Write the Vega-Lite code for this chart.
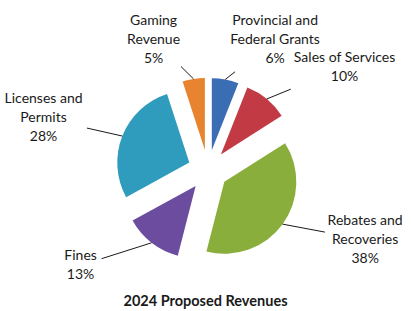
{
  "$schema": "https://vega.github.io/schema/vega-lite/v6.json",
  "width": 411,
  "height": 290,
  "padding": {"top": 0, "left": 0, "right": 0, "bottom": 21},
  "autosize": {"type": "none"},
  "background": "#ffffff",
  "config": {"view": {"stroke": null}, "font": "Lato"},
  "title": {"text": "2024 Proposed Revenues", "orient": "bottom", "anchor": "middle", "frame": "group", "offset": 5, "baseline": "top", "fontSize": 14.5, "fontWeight": "bold", "font": "Lato", "color": "#1a1a1a"},
  "data": {"values": [
    {"name": "Provincial and\nFederal Grants", "value": 6},
    {"name": "Sales of Services", "value": 10},
    {"name": "Rebates and\nRecoveries", "value": 38},
    {"name": "Fines", "value": 13},
    {"name": "Licenses and\nPermits", "value": 28},
    {"name": "Gaming\nRevenue", "value": 5}
  ]},
  "transform": [
    {"window": [{"op": "sum", "field": "value", "as": "cum"}], "frame": [null, 0]},
    {"calculate": "datum.cum - datum.value", "as": "start"},
    {"calculate": "(datum.start + datum.value / 2) / 100 * 2 * PI", "as": "mid"},
    {"calculate": "sin(datum.mid)", "as": "s"},
    {"calculate": "cos(datum.mid)", "as": "c"},
    {"calculate": "0.28 * datum.s", "as": "cx"},
    {"calculate": "0.28 * datum.c", "as": "cy"},
    {"calculate": "datum.cx + datum.s", "as": "ex"},
    {"calculate": "datum.cy + datum.c", "as": "ey"},
    {"calculate": "split(datum.name, '\\n')", "as": "lines"},
    {"calculate": "length(datum.lines) + 1", "as": "nl"},
    {"calculate": "max(length(datum.lines[0]), length(peek(datum.lines)))", "as": "maxlen"},
    {"calculate": "0.042 + 2.43 * (datum.s < 0 ? -1 : 1) * pow(abs(datum.s), 0.6)", "as": "lx"},
    {"calculate": "0.069 + 1.764 * datum.c", "as": "lyc"},
    {"calculate": "datum.lyc + (datum.nl - 1) / 2 * 19 / 72", "as": "ly"},
    {"calculate": "(datum.maxlen * 3.2 + 5) / 72", "as": "hw"},
    {"calculate": "(datum.nl * 9.5 + 3) / 72", "as": "hh"},
    {"calculate": "datum.ex - datum.lx", "as": "dx"},
    {"calculate": "datum.ey - datum.lyc", "as": "dy"},
    {"calculate": "min(1, datum.hw / abs(datum.dx), datum.hh / abs(datum.dy))", "as": "t"},
    {"calculate": "datum.lx + datum.t * datum.dx", "as": "kx"},
    {"calculate": "datum.lyc + datum.t * datum.dy", "as": "ky"},
    {"calculate": "datum.name + '\\n' + datum.value + '%'", "as": "label"}
  ],
  "layer": [
    {
      "mark": {"type": "arc", "outerRadius": 72},
      "encoding": {
        "theta": {"field": "start", "type": "quantitative", "stack": null, "scale": {"domain": [0, 100], "range": [0, 6.283185307]}},
        "theta2": {"field": "cum"},
        "x": {"field": "cx", "type": "quantitative", "axis": null, "scale": {"domain": [-2.889, 2.819], "nice": false, "zero": false}},
        "y": {"field": "cy", "type": "quantitative", "axis": null, "scale": {"domain": [-1.667, 2.361], "nice": false, "zero": false}},
        "color": {"field": "name", "type": "nominal", "legend": null, "scale": {
          "domain": ["Provincial and\nFederal Grants", "Sales of Services", "Rebates and\nRecoveries", "Fines", "Licenses and\nPermits", "Gaming\nRevenue"],
          "range": ["#3a6db4", "#c13a44", "#8aae3c", "#6b4c9e", "#2f9bbd", "#e8842f"]}}
      }
    },
    {
      "mark": {"type": "rule", "color": "#1a1a1a", "strokeWidth": 1},
      "encoding": {
        "x": {"field": "ex", "type": "quantitative"},
        "y": {"field": "ey", "type": "quantitative"},
        "x2": {"field": "kx"},
        "y2": {"field": "ky"}
      }
    },
    {
      "mark": {"type": "text", "lineBreak": "\n", "fontSize": 14, "lineHeight": 19, "align": "center", "baseline": "middle", "color": "#1a1a1a"},
      "encoding": {
        "x": {"field": "lx", "type": "quantitative"},
        "y": {"field": "ly", "type": "quantitative"},
        "text": {"field": "label"}
      }
    }
  ]
}
